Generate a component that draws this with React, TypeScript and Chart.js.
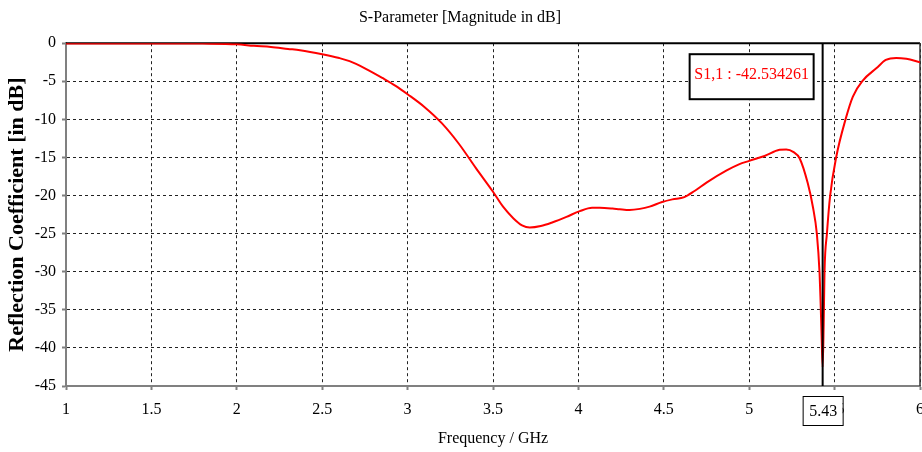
import React, { useEffect, useRef } from 'react';
import { Chart, registerables } from 'chart.js';

Chart.register(...registerables);

const FONT = '"Liberation Serif", "Times New Roman", Times, serif';

// Frequency (GHz) and S1,1 magnitude (dB)
const freqGHz = [
  1.0, 1.2, 1.4, 1.6, 1.8, 2.0, 2.1, 2.2, 2.3, 2.37, 2.5, 2.6, 2.66, 2.75, 2.855, 2.93,
  3.0, 3.1, 3.2, 3.3, 3.4, 3.5, 3.56, 3.62, 3.67, 3.715, 3.78, 3.85, 3.93,
  4.008, 4.08, 4.125, 4.2, 4.242, 4.3, 4.36, 4.417, 4.49, 4.55, 4.62, 4.68, 4.75, 4.868,
  4.94, 5.0, 5.09, 5.178, 5.217, 5.26, 5.295, 5.343, 5.373, 5.396, 5.412, 5.418, 5.424,
  5.43, 5.436, 5.441, 5.455, 5.474, 5.509, 5.564, 5.607, 5.665, 5.744, 5.8, 5.861, 5.92, 6.0,
];
const s11dB = [
  -0.05, -0.05, -0.04, -0.03, -0.05, -0.15, -0.35, -0.5, -0.75, -0.92, -1.44, -1.95, -2.36, -3.3, -4.6, -5.6,
  -6.7, -8.4, -10.5, -13.2, -16.4, -19.5, -21.5, -23.0, -23.9, -24.2, -24.0, -23.5, -22.8,
  -22.05, -21.6, -21.6, -21.7, -21.8, -21.9, -21.75, -21.45, -20.85, -20.5, -20.2, -19.4, -18.3, -16.7,
  -15.9, -15.45, -14.8, -14.0, -13.95, -14.3, -15.1, -18.4, -21.5, -25.0, -30.2, -34.0, -38.5,
  -42.534261, -37.0, -30.0, -25.0, -20.0, -15.0, -10.0, -7.0, -4.9, -3.3, -2.2, -1.93, -2.05, -2.5,
];

const xTicks = [1, 1.5, 2, 2.5, 3, 3.5, 4, 4.5, 5, 5.5, 6];
const yTicks = [0, -5, -10, -15, -20, -25, -30, -35, -40, -45];

const titleText = 'S-Parameter [Magnitude in dB]';
const xTitleText = 'Frequency / GHz';
const yTitleText = 'Reflection Coefficient [in dB]';

const markerFreq = 5.43;
const markerFreqLabel = '5.43';
const markerText = 'S1,1 : -42.534261';

const overlayPlugin = {
  id: 'overlayPlugin',
  beforeDatasetsDraw(chart: any) {
    const { ctx, chartArea: a } = chart;
    ctx.save();
    ctx.setLineDash([]);
    ctx.strokeStyle = '#000';
    ctx.lineWidth = 2;
    ctx.beginPath();
    ctx.moveTo(a.left, a.top);
    ctx.lineTo(a.right, a.top);
    ctx.stroke();
    ctx.strokeStyle = '#333';
    ctx.lineWidth = 1.5;
    ctx.beginPath();
    ctx.moveTo(a.right, a.top);
    ctx.lineTo(a.right, a.bottom);
    ctx.stroke();
    ctx.restore();
  },
  afterDraw(chart: any) {
    const { ctx, chartArea: a } = chart;
    const x = chart.scales.x.getPixelForValue(markerFreq);
    ctx.save();
    ctx.setLineDash([]);
    // marker line
    ctx.strokeStyle = '#000';
    ctx.lineWidth = 2;
    ctx.beginPath();
    ctx.moveTo(x, a.top);
    ctx.lineTo(x, a.bottom);
    ctx.stroke();

    // value box
    const bx = x - 133;
    const by = a.top + 11;
    const bw = 124;
    const bh = 45;
    ctx.fillStyle = '#fff';
    ctx.fillRect(bx, by, bw, bh);
    ctx.strokeStyle = '#000';
    ctx.lineWidth = 2;
    ctx.strokeRect(bx, by, bw, bh);
    ctx.fillStyle = '#ff0000';
    ctx.font = `16px ${FONT}`;
    ctx.textAlign = 'center';
    ctx.textBaseline = 'middle';
    ctx.fillText(markerText, bx + bw / 2, by + bh / 2 - 2);

    // frequency label box on x axis
    const lx = x - 20;
    const ly = a.bottom + 10;
    const lw = 40;
    const lh = 29;
    ctx.fillStyle = '#fff';
    ctx.fillRect(lx, ly, lw, lh);
    ctx.strokeStyle = '#000';
    ctx.lineWidth = 1;
    ctx.strokeRect(lx + 0.5, ly + 0.5, lw, lh);
    ctx.fillStyle = '#000';
    ctx.font = `16px ${FONT}`;
    ctx.fillText(markerFreqLabel, x + 0.5, ly + lh / 2 + 1);
    ctx.restore();
  },
};

export default function App() {
  const canvasRef = useRef<HTMLCanvasElement | null>(null);

  useEffect(() => {
    document.body.style.margin = '0';
    const canvas = canvasRef.current;
    if (!canvas) return;
    const chart = new Chart(canvas, {
      type: 'line',
      data: {
        datasets: [
          {
            label: 'S1,1',
            data: freqGHz.map((f, i) => ({ x: f, y: s11dB[i] })),
            borderColor: '#ff0000',
            borderWidth: 2,
            pointRadius: 0,
            cubicInterpolationMode: 'monotone',
            fill: false,
          },
        ],
      },
      options: {
        animation: false,
        responsive: false,
        devicePixelRatio: 1,
        events: [],
        layout: { padding: { left: 0, right: 2, top: 0, bottom: 0 } },
        plugins: {
          legend: { display: false },
          tooltip: { enabled: false },
          title: {
            display: true,
            text: titleText,
            color: '#000',
            font: { family: FONT, size: 16, weight: 'normal', lineHeight: 1.2 },
            padding: { top: 8, bottom: 16 },
          },
        },
        scales: {
          x: {
            type: 'linear',
            min: 1,
            max: 6,
            afterBuildTicks: (scale: any) => {
              scale.ticks = xTicks.map((v) => ({ value: v }));
            },
            afterFit: (scale: any) => {
              scale.height = 66;
              scale.paddingLeft = 0;
              scale.paddingRight = 0;
            },
            ticks: {
              color: '#000',
              font: { family: FONT, size: 16 },
              padding: 10,
              maxRotation: 0,
              autoSkip: false,
              callback: (v: any) => String(v),
            },
            grid: {
              color: '#222',
              lineWidth: 1,
              drawTicks: true,
              tickLength: 4,
              tickColor: '#808080',
              tickWidth: 2,
              tickBorderDash: [],
            },
            border: { display: true, color: '#808080', width: 2, dash: [3, 3] },
            title: {
              display: true,
              text: xTitleText,
              color: '#000',
              font: { family: FONT, size: 16, lineHeight: 1.2 },
              padding: { top: 0, bottom: 4 },
            },
          },
          y: {
            type: 'linear',
            min: -45,
            max: 0,
            afterBuildTicks: (scale: any) => {
              scale.ticks = yTicks.map((v) => ({ value: v }));
            },
            afterFit: (scale: any) => {
              scale.width = 66;
            },
            ticks: {
              color: '#000',
              font: { family: FONT, size: 16 },
              padding: 6,
              autoSkip: false,
              callback: (v: any) => String(v),
            },
            grid: {
              color: '#222',
              lineWidth: 1,
              drawTicks: true,
              tickLength: 4,
              tickColor: '#808080',
              tickWidth: 2,
              tickBorderDash: [],
            },
            border: { display: true, color: '#808080', width: 2, dash: [3, 3] },
            title: {
              display: true,
              text: yTitleText,
              color: '#000',
              font: { family: FONT, size: 22, weight: 'bold', lineHeight: 1.2 },
              padding: { top: 4, bottom: 0 },
            },
          },
        },
      },
      plugins: [overlayPlugin],
    } as any);
    return () => chart.destroy();
  }, []);

  return (
    <div style={{ width: 922, height: 452, position: 'relative' }}>
      <canvas ref={canvasRef} width={922} height={452} style={{ display: 'block' }} />
    </div>
  );
}
